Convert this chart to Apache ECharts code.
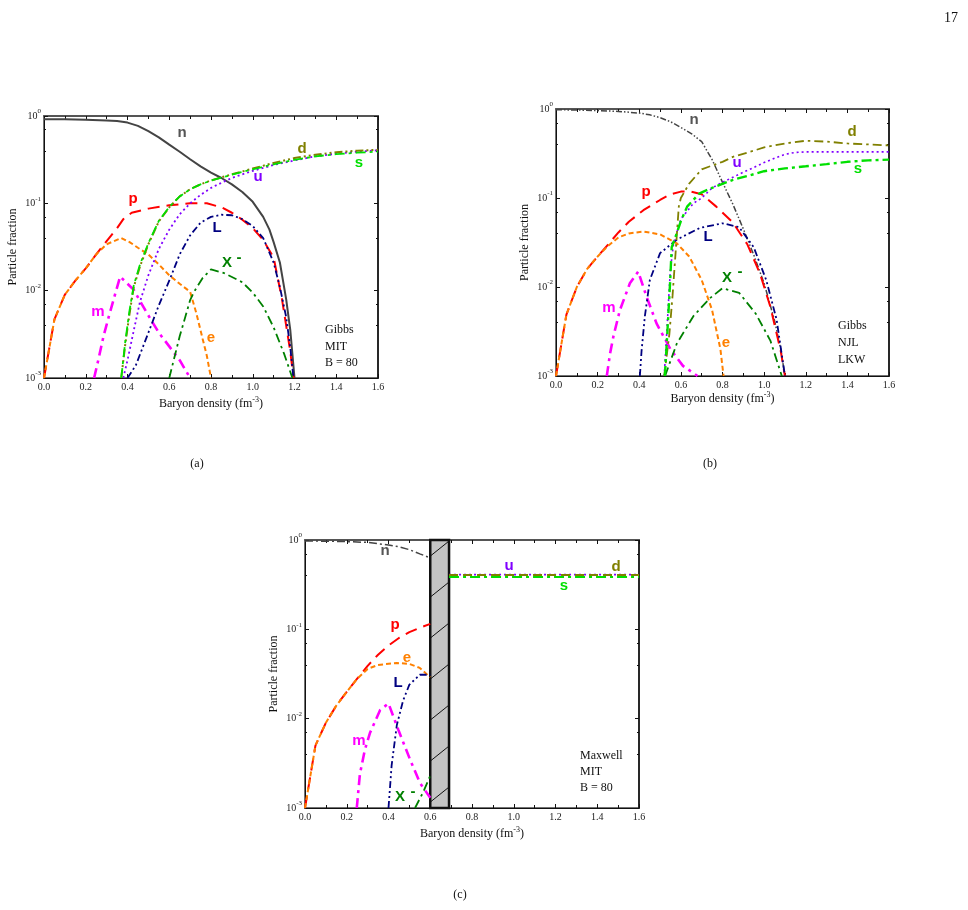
<!DOCTYPE html>
<html>
<head>
<meta charset="utf-8">
<script src="https://cdn.jsdelivr.net/npm/echarts@6/dist/echarts.min.js"></script>
<style>
  html, body { margin: 0; padding: 0; background: #fff; }
  #chart { width: 968px; height: 910px; }
</style>
</head>
<body>
<div id="chart"></div>
<script>
// ---- panel (a): Gibbs, MIT, B = 80 ----
var aN = [[0,0.92],[0.1,0.915],[0.2,0.905],[0.3,0.89],[0.35,0.875],[0.4,0.84],[0.45,0.77],[0.5,0.67],[0.55,0.57],[0.6,0.47],[0.65,0.39],[0.7,0.32],[0.75,0.265],[0.8,0.225],[0.85,0.195],[0.9,0.165],[0.95,0.135],[1.0,0.104],[1.05,0.07],[1.08,0.05],[1.1,0.036],[1.13,0.021],[1.16,0.008],[1.18,0.0035],[1.2,0.001]];
var aP = [[0,0.001],[0.05,0.0047],[0.1,0.009],[0.15,0.013],[0.2,0.018],[0.25,0.026],[0.3,0.037],[0.35,0.052],[0.38,0.066],[0.42,0.078],[0.5,0.087],[0.6,0.095],[0.7,0.1],[0.78,0.1],[0.85,0.09],[0.9,0.078],[0.95,0.065],[1.0,0.052],[1.05,0.038],[1.1,0.024],[1.14,0.008],[1.18,0.002],[1.195,0.001]];
var aE = [[0,0.001],[0.05,0.0047],[0.1,0.009],[0.15,0.013],[0.2,0.018],[0.25,0.026],[0.3,0.034],[0.37,0.04],[0.41,0.036],[0.45,0.031],[0.5,0.026],[0.55,0.02],[0.6,0.015],[0.65,0.012],[0.7,0.0097],[0.73,0.0055],[0.76,0.0028],[0.78,0.0018],[0.8,0.001]];
var aM = [[0.24,0.001],[0.26,0.0016],[0.285,0.003],[0.31,0.005],[0.34,0.009],[0.365,0.0145],[0.43,0.0102],[0.49,0.0057],[0.55,0.0033],[0.6,0.0023],[0.65,0.0016],[0.7,0.001]];
var aL = [[0.4,0.001],[0.44,0.0014],[0.5,0.0033],[0.55,0.0068],[0.6,0.013],[0.65,0.026],[0.7,0.043],[0.75,0.06],[0.8,0.07],[0.85,0.074],[0.9,0.073],[0.95,0.066],[1.0,0.055],[1.05,0.04],[1.1,0.021],[1.13,0.011],[1.16,0.005],[1.18,0.0022],[1.195,0.001]];
var aX = [[0.6,0.001],[0.65,0.003],[0.7,0.0078],[0.72,0.0098],[0.76,0.014],[0.8,0.0175],[0.86,0.016],[0.95,0.0125],[1.0,0.0095],[1.05,0.0066],[1.1,0.0038],[1.15,0.0019],[1.19,0.001]];
var aU = [[0.38,0.001],[0.4,0.0016],[0.43,0.0035],[0.46,0.0075],[0.5,0.015],[0.55,0.03],[0.6,0.05],[0.65,0.075],[0.7,0.1],[0.75,0.125],[0.8,0.15],[0.85,0.172],[0.9,0.195],[0.95,0.215],[1.0,0.235],[1.1,0.275],[1.2,0.31],[1.3,0.345],[1.4,0.37],[1.5,0.39],[1.6,0.405]];
var aD = [[0.37,0.001],[0.39,0.0025],[0.41,0.0055],[0.43,0.011],[0.46,0.019],[0.5,0.034],[0.55,0.062],[0.6,0.09],[0.65,0.12],[0.7,0.145],[0.75,0.165],[0.8,0.183],[0.9,0.215],[1.0,0.25],[1.1,0.29],[1.2,0.33],[1.3,0.36],[1.4,0.385],[1.5,0.4],[1.6,0.41]];
var aS = [[0.37,0.001],[0.39,0.0027],[0.41,0.006],[0.43,0.0115],[0.46,0.02],[0.5,0.035],[0.55,0.063],[0.6,0.091],[0.65,0.12],[0.7,0.145],[0.75,0.165],[0.8,0.182],[0.9,0.213],[1.0,0.245],[1.1,0.28],[1.2,0.315],[1.3,0.345],[1.4,0.365],[1.5,0.38],[1.6,0.39]];

// ---- panel (b): Gibbs, NJL, LKW ----
var bN = [[0,0.98],[0.1,0.975],[0.2,0.96],[0.3,0.94],[0.4,0.9],[0.45,0.86],[0.5,0.8],[0.55,0.72],[0.6,0.62],[0.65,0.53],[0.7,0.43],[0.75,0.27],[0.8,0.15],[0.85,0.085],[0.9,0.045],[0.95,0.023],[1.0,0.011],[1.05,0.0042],[1.08,0.002],[1.1,0.001]];
var bP = [[0,0.001],[0.05,0.0049],[0.1,0.01],[0.15,0.016],[0.2,0.022],[0.25,0.03],[0.3,0.041],[0.35,0.054],[0.42,0.073],[0.5,0.095],[0.55,0.11],[0.6,0.118],[0.65,0.118],[0.7,0.11],[0.77,0.08],[0.85,0.053],[0.92,0.03],[0.98,0.0142],[1.03,0.006],[1.08,0.0019],[1.1,0.001]];
var bE = [[0,0.001],[0.05,0.0049],[0.1,0.01],[0.15,0.016],[0.2,0.022],[0.25,0.029],[0.3,0.036],[0.35,0.04],[0.42,0.042],[0.5,0.039],[0.58,0.031],[0.64,0.022],[0.7,0.012],[0.75,0.0055],[0.79,0.002],[0.805,0.001]];
var bM = [[0.244,0.001],[0.26,0.0018],[0.276,0.0028],[0.307,0.0055],[0.355,0.011],[0.395,0.0149],[0.435,0.0078],[0.483,0.0039],[0.55,0.002],[0.61,0.0013],[0.68,0.001]];
var bL = [[0.403,0.001],[0.411,0.0019],[0.427,0.0047],[0.451,0.012],[0.5,0.024],[0.58,0.034],[0.69,0.046],[0.8,0.052],[0.88,0.047],[0.95,0.028],[1.01,0.012],[1.06,0.0043],[1.1,0.001]];
var bX = [[0.524,0.001],[0.58,0.0023],[0.66,0.0047],[0.74,0.0075],[0.8,0.0097],[0.88,0.0086],[0.96,0.005],[1.03,0.0025],[1.085,0.001]];
var bU = [[0.52,0.001],[0.53,0.0025],[0.54,0.0065],[0.55,0.016],[0.565,0.031],[0.6,0.058],[0.66,0.087],[0.7,0.1],[0.75,0.13],[0.8,0.15],[0.9,0.195],[0.95,0.22],[1.0,0.25],[1.05,0.28],[1.1,0.31],[1.15,0.325],[1.2,0.33],[1.6,0.33]];
var bD = [[0.52,0.001],[0.545,0.003],[0.56,0.008],[0.575,0.025],[0.59,0.08],[0.6,0.1],[0.64,0.145],[0.7,0.21],[0.8,0.255],[0.85,0.29],[0.95,0.34],[1.0,0.37],[1.1,0.41],[1.2,0.44],[1.3,0.43],[1.4,0.41],[1.5,0.4],[1.6,0.39]];
var bS = [[0.523,0.001],[0.532,0.0023],[0.54,0.005],[0.548,0.011],[0.556,0.028],[0.58,0.04],[0.6,0.055],[0.63,0.08],[0.69,0.113],[0.75,0.13],[0.85,0.16],[0.95,0.185],[1.0,0.2],[1.1,0.215],[1.2,0.227],[1.3,0.24],[1.4,0.255],[1.5,0.265],[1.6,0.27]];

// ---- panel (c): Maxwell, MIT, B = 80 ----
var cN = [[0,0.975],[0.1,0.97],[0.2,0.96],[0.3,0.94],[0.4,0.88],[0.45,0.84],[0.5,0.78],[0.55,0.7],[0.6,0.63]];
var cP = [[0,0.001],[0.05,0.005],[0.1,0.009],[0.15,0.014],[0.2,0.02],[0.25,0.028],[0.3,0.039],[0.35,0.052],[0.4,0.066],[0.45,0.08],[0.5,0.093],[0.55,0.104],[0.6,0.115]];
var cE = [[0,0.001],[0.05,0.005],[0.1,0.009],[0.15,0.014],[0.2,0.02],[0.25,0.028],[0.3,0.036],[0.35,0.04],[0.44,0.042],[0.5,0.041],[0.55,0.037],[0.6,0.029]];
var cM = [[0.248,0.001],[0.263,0.0024],[0.287,0.0045],[0.311,0.0069],[0.36,0.0125],[0.4,0.0148],[0.447,0.0075],[0.503,0.0035],[0.551,0.0019],[0.6,0.0013]];
var cL = [[0.4,0.001],[0.415,0.003],[0.44,0.0085],[0.47,0.016],[0.5,0.024],[0.55,0.031],[0.6,0.031]];
var cX = [[0.527,0.001],[0.566,0.0015],[0.6,0.0023]];
var cU = [[0.69,0.41],[1.6,0.41]];
var cD = [[0.69,0.405],[1.6,0.405]];
var cS = [[0.69,0.385],[1.6,0.385]];
var mixedPhase = [0.6, 0.69];   // hatched Maxwell region

var chart = echarts.init(document.getElementById('chart'));

var serif = '"Liberation Serif", "DejaVu Serif", serif';
var sans = '"Liberation Sans", Arial, sans-serif';

var grids = [
  {left: 44, top: 116, width: 334, height: 262},
  {left: 556, top: 109, width: 333, height: 267},
  {left: 305, top: 540, width: 334, height: 268}
];
var xNameGap = [18, 15, 18];

// 颜色和线型
var col = {n: '#444444', p: '#ff0000', e: '#ff8000', m: '#ff00ff', L: '#000080',
           X: '#008000', u: '#8000ff', d: '#808000', s: '#00e000'};
var dash = {
  p: [12, 7], e: [5, 3], m: [10, 5, 3, 5], L: [7, 3, 2, 3, 2, 3],
  X: [9, 4, 2.5, 4], u: [2, 3], d: [8, 3, 2, 3, 2, 3], s: [10, 4, 3, 4]
};

var xAxes = [], yAxes = [];
grids.forEach(function (g, i) {
  g.outerBoundsMode = 'none';
  g.show = true;
  g.borderColor = '#444';
  g.borderWidth = 1.5;
  var tickStyle = {color: '#111', width: 1};
  xAxes.push({
    gridIndex: i, type: 'value', min: 0, max: 1.6, interval: 0.2, position: 'bottom',
    name: '{t|Baryon density (fm}{s|-3}{t|)}', nameLocation: 'middle', nameGap: xNameGap[i],
    nameTextStyle: {rich: {
      t: {fontFamily: serif, fontSize: 12, color: '#111', lineHeight: 16},
      s: {fontFamily: serif, fontSize: 8, color: '#111', lineHeight: 8, verticalAlign: 'top'}
    }},
    axisLine: {show: true, onZero: false, lineStyle: {color: '#111', width: 1.2}},
    axisTick: {show: true, inside: true, length: 4, lineStyle: tickStyle},
    minorTick: {show: true, splitNumber: 2, length: 3, lineStyle: tickStyle},
    axisLabel: {fontFamily: serif, fontSize: 10, color: '#222', margin: 4,
      formatter: function (v) { return v.toFixed(1); }},
    splitLine: {show: false}
  });
  xAxes.push({
    gridIndex: i, type: 'value', min: 0, max: 1.6, interval: 0.2, position: 'top',
    axisLine: {show: true, onZero: false, lineStyle: {color: '#555', width: 2}},
    axisTick: {show: true, inside: true, length: 4, lineStyle: tickStyle},
    minorTick: {show: true, splitNumber: 2, length: 3, lineStyle: tickStyle},
    axisLabel: {show: false}, splitLine: {show: false}
  });
  yAxes.push({
    gridIndex: i, type: 'log', logBase: 10, min: 0.001, max: 1, position: 'left',
    name: 'Particle fraction', nameLocation: 'middle', nameGap: 25, nameRotate: 90,
    nameTextStyle: {fontFamily: serif, fontSize: 12, color: '#111'},
    axisLine: {show: true, onZero: false, lineStyle: {color: '#111', width: 1}},
    axisTick: {show: true, inside: true, length: 4, lineStyle: tickStyle},
    minorTick: {show: true, splitNumber: 3, length: 2, lineStyle: tickStyle},
    axisLabel: {margin: 3, color: '#222',
      formatter: function (v) {
        var e = Math.round(Math.log10(v));
        return '{b|10}{s|' + e + '}';
      },
      rich: {
        b: {fontFamily: serif, fontSize: 10, color: '#222', lineHeight: 16},
        s: {fontFamily: serif, fontSize: 7, color: '#222', lineHeight: 8, verticalAlign: 'top'}
      }},
    splitLine: {show: false}
  });
  yAxes.push({
    gridIndex: i, type: 'log', logBase: 10, min: 0.001, max: 1, position: 'right',
    axisLine: {show: true, onZero: false, lineStyle: {color: '#111', width: 1.5}},
    axisTick: {show: true, inside: true, length: 4, lineStyle: tickStyle},
    minorTick: {show: true, splitNumber: 3, length: 2, lineStyle: tickStyle},
    axisLabel: {show: false}, splitLine: {show: false}
  });
});

function line(panel, data, color, type, width) {
  return {
    type: 'line', xAxisIndex: panel * 2, yAxisIndex: panel * 2, data: data,
    symbol: 'none', showSymbol: false, silent: true, clip: true,
    lineStyle: {color: color, width: width || 1.8, type: type || 'solid', cap: 'butt'}
  };
}

// hatch pattern for the mixed phase box
var hatch = document.createElement('canvas');
hatch.width = 51; hatch.height = 41;
var hc = hatch.getContext('2d');
hc.fillStyle = '#c4c4c4';
hc.fillRect(0, 0, 51, 41);
hc.strokeStyle = '#111';
hc.lineWidth = 1;
hc.beginPath(); hc.moveTo(-2, 42.6); hc.lineTo(53, -1.6); hc.stroke();

var series = [
  line(0, aN, col.n, 'solid', 2),
  line(0, aP, col.p, dash.p, 2),
  line(0, aE, col.e, dash.e, 2),
  line(0, aM, col.m, dash.m, 2.6),
  line(0, aL, col.L, dash.L, 1.8),
  line(0, aX, col.X, dash.X, 1.8),
  line(0, aU, col.u, dash.u, 1.8),
  line(0, aD, col.d, dash.d, 2),
  line(0, aS, col.s, dash.s, 1.8),

  line(1, bN, col.n, [6, 2, 1.5, 2, 1.5, 2], 1.5),
  line(1, bP, col.p, dash.p, 2),
  line(1, bE, col.e, dash.e, 2),
  line(1, bM, col.m, dash.m, 2.6),
  line(1, bL, col.L, dash.L, 1.8),
  line(1, bX, col.X, dash.X, 1.8),
  line(1, bU, col.u, dash.u, 1.6),
  line(1, bD, col.d, dash.X, 1.8),
  line(1, bS, col.s, dash.s, 2.4),

  line(2, cN, col.n, [8, 3, 2, 3], 1.5),
  line(2, cP, col.p, dash.p, 2),
  line(2, cE, col.e, dash.e, 2),
  line(2, cM, col.m, dash.m, 2.6),
  line(2, cL, col.L, dash.L, 1.8),
  line(2, cX, col.X, dash.X, 1.8),
  line(2, cU, col.u, dash.u, 1.8),
  line(2, cD, col.d, [9, 5], 2),
  line(2, cS, col.s, dash.s, 2)
];
series[18].markArea = {
  silent: true,
  itemStyle: {color: {image: hatch, repeat: 'repeat'}, borderColor: '#111', borderWidth: 2.5},
  data: [[{xAxis: mixedPhase[0]}, {xAxis: mixedPhase[1]}]]
};

function lbl(x, y, t, c, size) {
  return {type: 'text', x: x, y: y, silent: true, z: 100,
    style: {text: t, fill: c, font: 'bold ' + (size || 15) + 'px ' + sans,
            textAlign: 'center', textVerticalAlign: 'middle'}};
}
function txt(x, y, t, size, align) {
  return {type: 'text', x: x, y: y, silent: true, z: 100,
    style: {text: t, fill: '#111', font: (size || 12) + 'px ' + serif,
            textAlign: align || 'left', textVerticalAlign: 'middle'}};
}

var graphics = [
  // (a)
  lbl(182, 133, 'n', '#555'), lbl(302, 149, 'd', col.d), lbl(258, 177, 'u', col.u),
  lbl(359, 163, 's', col.s), lbl(133, 199, 'p', col.p), lbl(217, 228, 'L', col.L),
  lbl(227, 263, 'X', col.X), lbl(239, 258, '-', col.X), lbl(98, 312, 'm', col.m),
  lbl(211, 338, 'e', col.e),
  txt(325, 330, 'Gibbs'), txt(325, 347, 'MIT'), txt(325, 363, 'B = 80'),
  // (b)
  lbl(694, 120, 'n', '#555'), lbl(852, 132, 'd', col.d), lbl(737, 163, 'u', col.u),
  lbl(858, 169, 's', col.s), lbl(646, 192, 'p', col.p), lbl(708, 237, 'L', col.L),
  lbl(727, 278, 'X', col.X), lbl(740, 272, '-', col.X), lbl(609, 308, 'm', col.m),
  lbl(726, 343, 'e', col.e),
  txt(838, 326, 'Gibbs'), txt(838, 343, 'NJL'), txt(838, 360, 'LKW'),
  // (c)
  lbl(385, 551, 'n', '#555'), lbl(509, 566, 'u', col.u), lbl(616, 567, 'd', col.d),
  lbl(564, 586, 's', col.s), lbl(395, 625, 'p', col.p), lbl(407, 658, 'e', col.e),
  lbl(398, 683, 'L', col.L), lbl(359, 741, 'm', col.m), lbl(400, 797, 'X', col.X),
  lbl(413, 792, '-', col.X),
  txt(580, 756, 'Maxwell'), txt(580, 772, 'MIT'), txt(580, 788, 'B = 80'),
  // captions and page number
  txt(197, 464, '(a)', 12, 'center'), txt(710, 464, '(b)', 12, 'center'),
  txt(460, 895, '(c)', 12, 'center'), txt(958, 18, '17', 14, 'right')
];

chart.setOption({
  backgroundColor: '#ffffff',
  animation: false,
  grid: grids,
  xAxis: xAxes,
  yAxis: yAxes,
  series: series,
  graphic: graphics
});
</script>
</body>
</html>
